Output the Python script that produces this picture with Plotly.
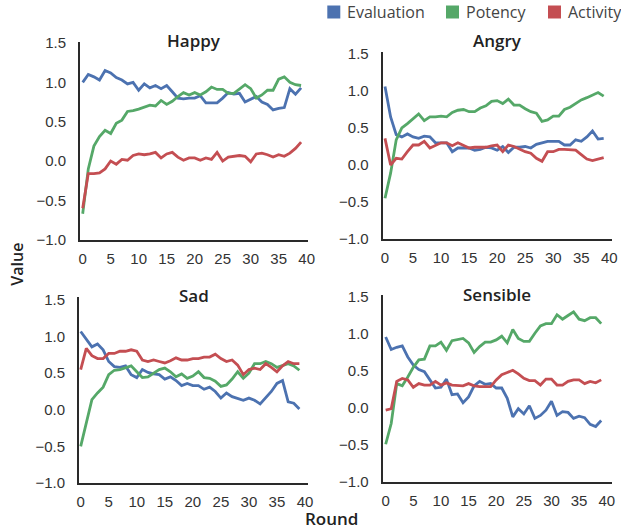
import plotly.graph_objects as go

rounds = list(range(40))

happy_eval = [1.00, 1.10, 1.07, 1.03, 1.15, 1.12, 1.06, 1.03, 0.98, 1.00, 0.90, 0.98, 0.93, 0.96, 0.92, 0.96, 0.88, 0.80, 0.79, 0.80,
              0.80, 0.83, 0.74, 0.74, 0.74, 0.80, 0.87, 0.85, 0.86, 0.75, 0.78, 0.82, 0.75, 0.72, 0.65, 0.67, 0.68, 0.92, 0.85, 0.93]
happy_pot = [-0.67, -0.10, 0.19, 0.31, 0.39, 0.35, 0.48, 0.52, 0.63, 0.64, 0.66, 0.69, 0.71, 0.70, 0.77, 0.72, 0.76, 0.82, 0.87, 0.84,
             0.87, 0.84, 0.88, 0.94, 0.91, 0.91, 0.86, 0.86, 0.92, 0.97, 0.92, 0.80, 0.84, 0.90, 0.90, 1.04, 1.07, 1.00, 0.97, 0.96]
happy_act = [-0.60, -0.16, -0.16, -0.15, -0.10, 0.00, -0.04, 0.02, 0.01, 0.07, 0.09, 0.08, 0.09, 0.11, 0.04, 0.09, 0.11, 0.05, 0.01, 0.04,
             0.04, 0.01, 0.04, 0.02, 0.11, 0.00, 0.05, 0.06, 0.07, 0.06, -0.01, 0.09, 0.10, 0.08, 0.05, 0.08, 0.06, 0.10, 0.16, 0.24]

angry_eval = [1.06, 0.65, 0.41, 0.38, 0.42, 0.38, 0.36, 0.39, 0.38, 0.30, 0.30, 0.30, 0.18, 0.23, 0.23, 0.23, 0.20, 0.21, 0.24, 0.23,
              0.20, 0.25, 0.17, 0.24, 0.24, 0.25, 0.23, 0.28, 0.30, 0.32, 0.32, 0.32, 0.27, 0.27, 0.34, 0.32, 0.38, 0.46, 0.35, 0.36]
angry_pot = [-0.45, -0.11, 0.34, 0.50, 0.56, 0.63, 0.69, 0.60, 0.65, 0.65, 0.66, 0.65, 0.71, 0.74, 0.75, 0.72, 0.72, 0.77, 0.80, 0.86,
             0.87, 0.83, 0.89, 0.81, 0.81, 0.76, 0.72, 0.70, 0.59, 0.61, 0.66, 0.66, 0.75, 0.78, 0.83, 0.88, 0.91, 0.94, 0.98, 0.93]
angry_act = [0.36, 0.00, 0.09, 0.08, 0.18, 0.27, 0.27, 0.32, 0.23, 0.26, 0.30, 0.30, 0.26, 0.30, 0.27, 0.23, 0.24, 0.24, 0.24, 0.26,
             0.27, 0.18, 0.27, 0.25, 0.21, 0.18, 0.16, 0.09, 0.05, 0.18, 0.18, 0.21, 0.21, 0.21, 0.20, 0.14, 0.08, 0.06, 0.08, 0.10]

sad_eval = [1.07, 0.96, 0.86, 0.90, 0.82, 0.66, 0.59, 0.58, 0.60, 0.48, 0.44, 0.55, 0.51, 0.49, 0.48, 0.42, 0.45, 0.40, 0.33, 0.36,
            0.33, 0.33, 0.28, 0.31, 0.25, 0.16, 0.23, 0.18, 0.16, 0.13, 0.16, 0.13, 0.08, 0.16, 0.25, 0.36, 0.40, 0.11, 0.09, 0.01]
sad_pot = [-0.50, -0.16, 0.14, 0.23, 0.31, 0.48, 0.54, 0.55, 0.58, 0.60, 0.52, 0.44, 0.45, 0.50, 0.55, 0.57, 0.52, 0.45, 0.49, 0.43,
           0.46, 0.52, 0.44, 0.43, 0.39, 0.32, 0.34, 0.42, 0.52, 0.43, 0.50, 0.63, 0.63, 0.66, 0.63, 0.58, 0.61, 0.63, 0.60, 0.54]
sad_act = [0.55, 0.84, 0.74, 0.70, 0.70, 0.77, 0.77, 0.80, 0.80, 0.82, 0.80, 0.68, 0.66, 0.68, 0.66, 0.64, 0.67, 0.71, 0.68, 0.68,
           0.70, 0.70, 0.72, 0.72, 0.76, 0.70, 0.66, 0.68, 0.61, 0.48, 0.55, 0.57, 0.55, 0.63, 0.58, 0.52, 0.60, 0.66, 0.63, 0.63]

sens_eval = [0.96, 0.79, 0.82, 0.84, 0.69, 0.58, 0.52, 0.49, 0.38, 0.27, 0.28, 0.39, 0.18, 0.19, 0.07, 0.15, 0.30, 0.36, 0.32, 0.33,
             0.27, 0.27, 0.13, -0.12, -0.01, -0.08, 0.03, -0.14, -0.10, -0.03, 0.09, -0.10, -0.05, -0.06, -0.14, -0.11, -0.13, -0.22, -0.25, -0.17]
sens_pot = [-0.49, -0.21, 0.33, 0.30, 0.42, 0.55, 0.65, 0.66, 0.84, 0.84, 0.89, 0.78, 0.91, 0.92, 0.94, 0.88, 0.75, 0.83, 0.89, 0.89,
            0.92, 0.97, 0.88, 1.06, 0.94, 0.90, 0.90, 1.01, 1.11, 1.14, 1.14, 1.26, 1.20, 1.25, 1.30, 1.20, 1.18, 1.22, 1.22, 1.14]
sens_act = [-0.03, -0.01, 0.36, 0.40, 0.38, 0.28, 0.33, 0.31, 0.31, 0.36, 0.31, 0.34, 0.31, 0.30, 0.30, 0.33, 0.30, 0.29, 0.29, 0.29,
            0.38, 0.45, 0.48, 0.51, 0.46, 0.40, 0.37, 0.37, 0.31, 0.39, 0.39, 0.31, 0.31, 0.36, 0.38, 0.38, 0.33, 0.36, 0.34, 0.38]

series_names = ["Evaluation", "Potency", "Activity"]
colors = ["#4C72B0", "#55A868", "#C44E52"]
panel_titles = ["Happy", "Angry", "Sad", "Sensible"]
panel_data = [
    [happy_eval, happy_pot, happy_act],
    [angry_eval, angry_pot, angry_act],
    [sad_eval, sad_pot, sad_act],
    [sens_eval, sens_pot, sens_act],
]
y_ticks = [-1.0, -0.5, 0.0, 0.5, 1.0, 1.5]
x_ticks = [0, 5, 10, 15, 20, 25, 30, 35, 40]

W, H = 621, 531
# pixel boxes: (left, right, top, bottom), x range, y top value
panel_px = [
    (80.0, 308.3, 42.0, 239.7, (-0.48, 40.29), 1.513),
    (382.7, 611.7, 52.0, 239.0, (-0.41, 40.43), 1.527),
    (79.0, 308.3, 297.0, 483.0, (-0.30, 40.59), 1.541),
    (382.7, 611.7, 295.0, 482.0, (-0.54, 40.90), 1.527),
]
title_y_px = [40, 40, 295, 294]
legend_px = [(327.3, 346), (446, 464.5), (548, 566.5)]  # square left, text left

fig = go.Figure()
tick_font = dict(family="Liberation Sans, Arial, sans-serif", size=15, color="#333333")

for i, (data, box) in enumerate(zip(panel_data, panel_px)):
    l, r, t, b, xr, ytop = box
    sfx = "" if i == 0 else str(i + 1)
    for name, vals, c in zip(series_names, data, colors):
        fig.add_trace(go.Scatter(x=rounds, y=vals, mode="lines", name=name,
                                 line=dict(color=c, width=2.8), showlegend=False,
                                 xaxis="x" + sfx, yaxis="y" + sfx))
    fig.layout["xaxis" + sfx] = dict(domain=[l / W, r / W], range=list(xr), anchor="y" + sfx,
                                     tickvals=x_ticks, showgrid=False, zeroline=False,
                                     showline=True, linecolor="#2a2a2a", linewidth=2,
                                     ticks="", ticklabelstandoff=4, tickfont=tick_font,
                                     automargin=False)
    fig.layout["yaxis" + sfx] = dict(domain=[1 - b / H, 1 - t / H], range=[-1.0, ytop], anchor="x" + sfx,
                                     tickvals=y_ticks, tickformat=".1f", showgrid=False, zeroline=False,
                                     showline=True, linecolor="#2a2a2a", linewidth=2,
                                     ticks="", ticklabelstandoff=9, tickfont=tick_font,
                                     automargin=False)
    fig.add_annotation(text=panel_titles[i], x=(l + r) / 2 / W, y=1 - title_y_px[i] / H,
                       xref="paper", yref="paper", xanchor="center", yanchor="middle",
                       showarrow=False,
                       font=dict(family="Open Sans, sans-serif", size=17, color="#222222", weight=600))

# legend keys (paper-positioned squares and labels)
for name, c, (sq_x, tx_x) in zip(series_names, colors, legend_px):
    fig.add_shape(type="rect", xref="paper", yref="paper",
                  x0=sq_x / W, x1=(sq_x + 13) / W, y0=1 - 18.5 / H, y1=1 - 5.5 / H,
                  fillcolor=c, line=dict(width=0))
    fig.add_annotation(text=name, x=tx_x / W, y=1 - 11.5 / H, xref="paper", yref="paper",
                       xanchor="left", yanchor="middle", showarrow=False, borderpad=0,
                       font=dict(family="Open Sans, sans-serif", size=16, color="#444444"))

fig.add_annotation(text="Value", x=16.7 / W, y=1 - 264 / H, xref="paper", yref="paper",
                   textangle=-90, showarrow=False, xanchor="center", yanchor="middle",
                   font=dict(family="Open Sans, sans-serif", size=16, color="#222222", weight=600))
fig.add_annotation(text="Round", x=331.5 / W, y=1 - 518 / H, xref="paper", yref="paper",
                   showarrow=False, xanchor="center", yanchor="middle",
                   font=dict(family="Open Sans, sans-serif", size=17, color="#222222", weight=600))

fig.update_layout(
    width=W, height=H, autosize=False,
    margin=dict(l=0, r=0, t=0, b=0),
    paper_bgcolor="white", plot_bgcolor="white",
    showlegend=False,
)

fig.write_html("out.html", config={"displayModeBar": False},
               post_script="document.body.style.margin='0px';document.body.style.overflow='hidden';")
